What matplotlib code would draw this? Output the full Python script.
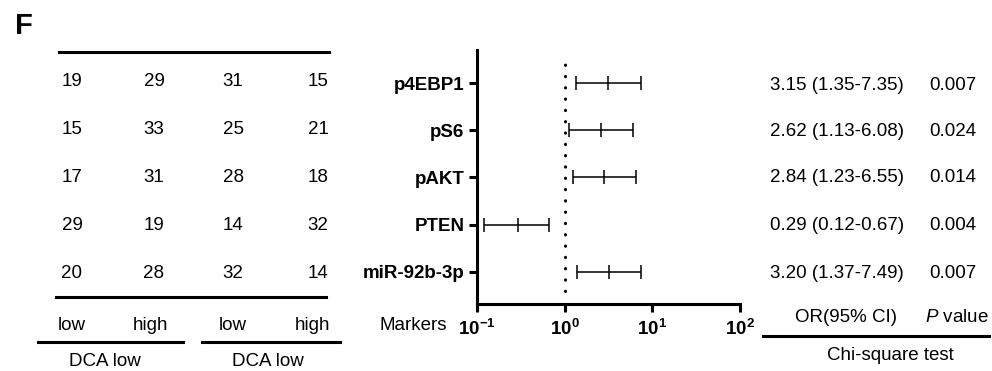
import numpy as np
import matplotlib
matplotlib.use('Agg')
import matplotlib.pyplot as plt

plt.rcParams['font.family'] = ['Liberation Sans', 'DejaVu Sans']
plt.rcParams['mathtext.fontset'] = 'custom'
plt.rcParams['mathtext.rm'] = 'Liberation Sans'
plt.rcParams['mathtext.bf'] = 'Liberation Sans:bold'
plt.rcParams['mathtext.it'] = 'Liberation Sans:italic'

# Data
markers = ['p4EBP1', 'pS6', 'pAKT', 'PTEN', 'miR-92b-3p']
odds_ratio = [3.15, 2.62, 2.84, 0.29, 3.20]
ci_low = [1.35, 1.13, 1.23, 0.12, 1.37]
ci_high = [7.35, 6.08, 6.55, 0.67, 7.49]
p_values = ['0.007', '0.024', '0.014', '0.004', '0.007']
counts = [
    [19, 29, 31, 15],
    [15, 33, 25, 21],
    [17, 31, 28, 18],
    [29, 19, 14, 32],
    [20, 28, 32, 14],
]
col_labels = ['low', 'high', 'low', 'high']
group_labels = ['DCA low', 'DCA low']

W, H = 992, 371
fig = plt.figure(figsize=(W / 100, H / 100), dpi=100)

# overlay axes in pixel coordinates for the side tables
ov = fig.add_axes([0, 0, 1, 1])
ov.set_xlim(0, W)
ov.set_ylim(H, 0)
ov.axis('off')

fs = 13.5
ov.text(15, 26, 'F', fontsize=21, fontweight='bold', va='center', ha='left')

# left count table
row_y = [81, 129, 177, 226, 274]
col_x = [72, 154, 233, 318]
lab_x = [72, 150, 233, 312]
ov.plot([59, 329], [52, 52], color='black', lw=2.2)
ov.plot([56, 326], [297, 297], color='black', lw=2.2)
for i, row in enumerate(counts):
    for j, v in enumerate(row):
        ov.text(col_x[j], row_y[i], str(v), fontsize=fs, ha='center', va='center')
for j, lab in enumerate(col_labels):
    ov.text(lab_x[j], 325, lab, fontsize=fs, ha='center', va='center')
ov.plot([38, 183], [342, 342], color='black', lw=2.2)
ov.plot([202, 340], [342, 342], color='black', lw=2.2)
ov.text(105, 362, group_labels[0], fontsize=fs, ha='center', va='center')
ov.text(268, 362, group_labels[1], fontsize=fs, ha='center', va='center')

# right OR table
or_y = [85, 132, 178, 225, 273]
for i in range(len(markers)):
    txt = f'{odds_ratio[i]:.2f} ({ci_low[i]:.2f}-{ci_high[i]:.2f})'
    ov.text(837, or_y[i], txt, fontsize=fs, ha='center', va='center')
    ov.text(953, or_y[i], p_values[i], fontsize=fs, ha='center', va='center')
ov.text(846, 317, 'OR(95% CI)', fontsize=fs, ha='center', va='center')
ov.text(957, 317, r'$\it{P}$ value', fontsize=fs, ha='center', va='center')
ov.plot([763, 989], [336, 336], color='black', lw=2.2)
ov.text(890, 356, 'Chi-square test', fontsize=fs, ha='center', va='center')
ov.text(413, 325, 'Markers', fontsize=fs, ha='center', va='center')

# forest plot
left, right, top, bottom = 477, 740, 50, 304
ax = fig.add_axes([left / W, 1 - bottom / H, (right - left) / W, (bottom - top) / H])
ypos = np.arange(len(markers), 0, -1)
x = np.array(odds_ratio)
xerr = [x - np.array(ci_low), np.array(ci_high) - x]
ax.errorbar(x, ypos, xerr=xerr, fmt='|', color='black', ecolor='black',
            elinewidth=1.1, capsize=5, capthick=1.1, markersize=10, mew=1.1)
ax.plot([1, 1], [0.6, 5.4], color='black', lw=2.2, linestyle=(0, (0.1, 3.6)),
        dash_capstyle='round')
ax.set_xscale('log')
ax.set_xlim(0.1, 100)
ax.set_ylim(0.32, 5.7)
ax.set_yticks(ypos)
ax.set_yticklabels(markers, fontsize=fs, fontweight='bold')
ax.set_xticks([0.1, 1, 10, 100])
ax.set_xticklabels([r'$\mathbf{10^{-1}}$', r'$\mathbf{10^{0}}$', r'$\mathbf{10^{1}}$', r'$\mathbf{10^{2}}$'],
                   fontsize=fs)
ax.xaxis.set_minor_locator(matplotlib.ticker.NullLocator())
ax.spines['top'].set_visible(False)
ax.spines['right'].set_visible(False)
for s in ('left', 'bottom'):
    ax.spines[s].set_linewidth(2.2)
ax.tick_params(axis='both', width=2.2, length=6, pad=3)
ax.tick_params(axis='x', pad=5)
ax.patch.set_alpha(0)

fig.savefig('out.png', dpi=100)
